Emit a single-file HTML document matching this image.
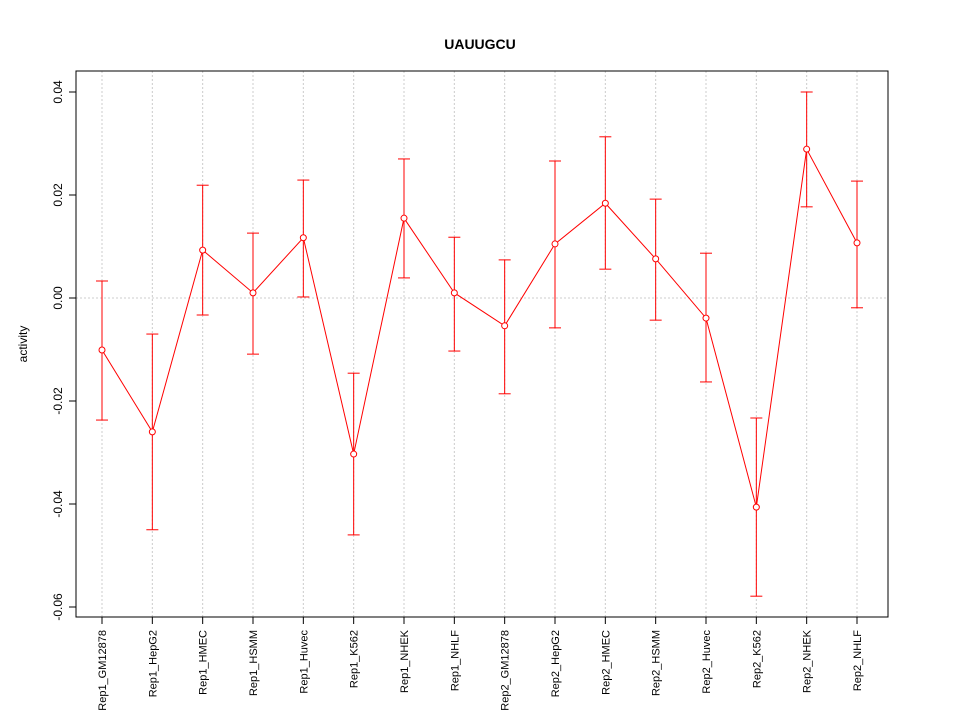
<!DOCTYPE html>
<html><head><meta charset="utf-8"><style>body{margin:0;background:#fff}svg{display:block}text{font-family:"Liberation Sans",sans-serif}</style></head>
<body>
<svg id="chart" width="960" height="720">
<text x="480" y="49" text-anchor="middle" font-size="14" font-weight="bold">UAUUGCU</text>
<text transform="translate(27,344) rotate(-90)" text-anchor="middle" font-size="12">activity</text>
<g id="grid"></g><g id="yaxis"></g><g id="xaxis"></g><g id="series"></g>
<rect x="76" y="71" width="812" height="546" fill="none" stroke="#000"/>
</svg>
<script>
const categories=["Rep1_GM12878","Rep1_HepG2","Rep1_HMEC","Rep1_HSMM","Rep1_Huvec","Rep1_K562","Rep1_NHEK","Rep1_NHLF","Rep2_GM12878","Rep2_HepG2","Rep2_HMEC","Rep2_HSMM","Rep2_Huvec","Rep2_K562","Rep2_NHEK","Rep2_NHLF"];
const values=[-0.0101,-0.026,0.0093,0.001,0.0117,-0.0303,0.0155,0.001,-0.0054,0.0105,0.0184,0.0076,-0.0039,-0.0406,0.0289,0.0107];
const upper=[0.0033,-0.007,0.0219,0.0126,0.0229,-0.0146,0.027,0.0118,0.0074,0.0266,0.0313,0.0192,0.0087,-0.0233,0.04,0.0227];
const lower=[-0.0237,-0.045,-0.0033,-0.0109,0.0002,-0.046,0.0039,-0.0103,-0.0186,-0.0058,0.0056,-0.0043,-0.0163,-0.0579,0.0177,-0.0019];
const yTicks=[-0.06,-0.04,-0.02,0,0.02,0.04];
const yTickLabels=["-0.06","-0.04","-0.02","0.00","0.02","0.04"];
const NS="http://www.w3.org/2000/svg";
const y=v=>298-v*5150;
const x=i=>102+i*(857-102)/(categories.length-1);
function mk(tag,attrs,parent){const e=document.createElementNS(NS,tag);for(const k in attrs)e.setAttribute(k,attrs[k]);document.getElementById(parent).appendChild(e);return e;}
let e;
e=mk("line",{x1:76,x2:888,y1:y(0),y2:y(0),stroke:"#ccc","stroke-dasharray":"2,2"},"grid");


yTicks.forEach((t,i)=>{
 e=mk("line",{x1:69,x2:76,y1:y(t),y2:y(t),stroke:"#000"},"yaxis");
 
 
 e=mk("text",{x:0,y:0,"font-size":12,"text-anchor":"middle",transform:`translate(62,${y(t)}) rotate(-90)`},"yaxis");
 e.textContent=yTickLabels[i];
 
 
});
categories.forEach((c,i)=>{
 e=mk("line",{x1:x(i),x2:x(i),y1:71,y2:617,stroke:"#ccc","stroke-dasharray":"2,2"},"grid");
 
 
 e=mk("line",{x1:x(i),x2:x(i),y1:617,y2:624,stroke:"#000"},"xaxis");
 
 
 e=mk("text",{x:0,y:0,"font-size":11,"text-anchor":"end",transform:`translate(${x(i)+4},630) rotate(-90)`},"xaxis");
 e.textContent=c;
 
 
});
e=mk("polyline",{points:values.map((v,i)=>x(i)+","+y(v)).join(" "),fill:"none",stroke:"#f00"},"series");


values.forEach((v,i)=>{
 e=mk("line",{x1:x(i),x2:x(i),y1:y(upper[i]),y2:y(lower[i]),stroke:"#f00"},"series");
 
 
 [upper[i],lower[i]].forEach(b=>{
  e=mk("line",{x1:x(i)-6,x2:x(i)+6,y1:y(b),y2:y(b),stroke:"#f00"},"series");
  
  
 });
 e=mk("circle",{cx:x(i),cy:y(v),r:3,fill:"#fff",stroke:"#f00"},"series");
 
 
});
</script>
</body></html>
